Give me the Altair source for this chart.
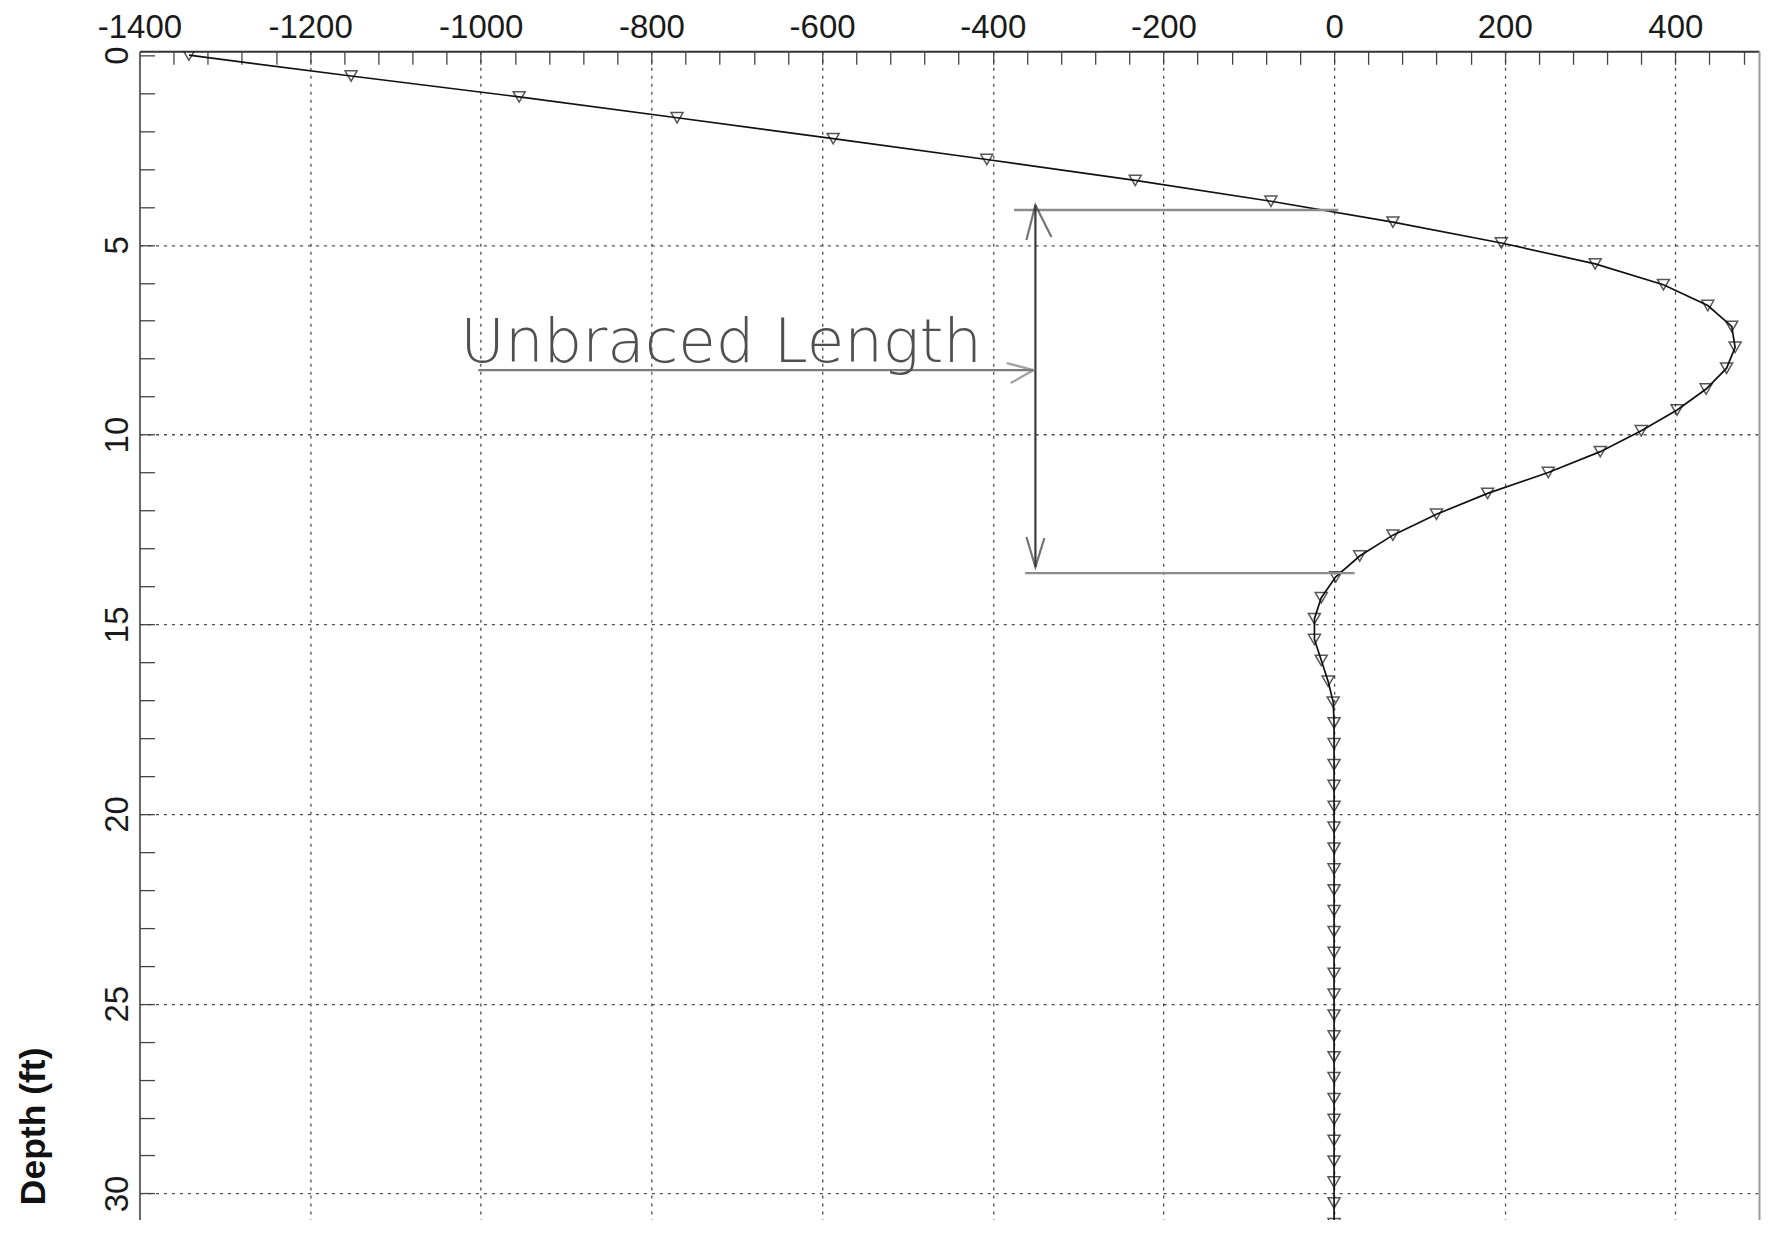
import altair as alt
import pandas as pd

# ---- curve data ----
depth_ft = [0.00, 0.55, 1.10, 1.65, 2.20, 2.75, 3.30, 3.85, 4.40, 4.95,
            5.50, 6.05, 6.60, 7.15, 7.70, 8.25, 8.80, 9.35, 9.90, 10.45,
            11.00, 11.55, 12.10, 12.65, 13.20, 13.75, 14.30, 14.85, 15.40, 15.95,
            16.50, 17.05, 17.60, 18.15, 18.70, 19.25, 19.80, 20.35, 20.90, 21.45,
            22.00, 22.55, 23.10, 23.65, 24.20, 24.75, 25.30, 25.85, 26.40, 26.95,
            27.50, 28.05, 28.60, 29.15, 29.70, 30.25, 30.80, 31.35]
values = [-1342, -1152, -955, -770, -587, -407, -233, -74, 69, 196,
          306, 386, 438, 466, 470, 460, 436, 402, 360, 312,
          251, 180, 120, 69, 30, 2, -15, -23, -23, -15,
          -7, -1, 0, 0, 0, 0, 0, 0, 0, 0,
          0, 0, 0, 0, 0, 0, 0, 0, 0, 0,
          0, 0, 0, 0, 0, 0, 0, 0]

# ---- axes ----
x_major = [-1400, -1200, -1000, -800, -600, -400, -200, 0, 200, 400]
x_minor = list(range(-1400, 481, 40))
y_major = [0, 5, 10, 15, 20, 25, 30]
y_minor = list(range(0, 31))
X_DOMAIN = [-1400, 498]
Y_DOMAIN = [-0.1, 30.7]
W, H = 1620, 1169

# ---- hand-drawn annotation ----
note_text = ["Unbraced Length"]
note_x = [-1024]
note_y = [8.09]

seg_x = [-375, -362, -1003]
seg_x2 = [5, 24, -352]
seg_y = [4.08, 13.65, 8.30]
seg_color = ["#8c8c8c", "#8c8c8c", "#7a7a7a"]

vert_x = [-350]
vert_y = [3.95]
vert_y2 = [13.49]

head_x = [-350, -350, -352]
head_y = [3.95, 13.49, 8.30]
head_shape = ["M-0.45,1.75L0,0L0.8,1.6",
              "M-0.45,-1.5L0,0L0.45,-1.45",
              "M-1.35,-0.35L0,0L-1.15,0.65"]
head_color = ["#3a3a3a", "#3a3a3a", "#7a7a7a"]

df = pd.DataFrame({"d": depth_ft, "v": values, "k": list(range(len(depth_ft)))})
df_seg = pd.DataFrame({"x": seg_x, "x2": seg_x2, "y": seg_y, "c": seg_color})
df_vert = pd.DataFrame({"x": vert_x, "y": vert_y, "y2": vert_y2})
df_txt = pd.DataFrame({"x": note_x, "y": note_y, "t": note_text})
df_head = pd.DataFrame({"x": head_x, "y": head_y, "s": head_shape, "c": head_color})

FONT = "Liberation Sans, Arial, Helvetica, sans-serif"
xs = alt.Scale(domain=X_DOMAIN, nice=False, zero=False)
ys = alt.Scale(domain=Y_DOMAIN, reverse=True, nice=False, zero=False)

line = alt.Chart(df).mark_line(color="#111111", strokeWidth=1.7, clip=True).encode(
    x=alt.X("v:Q", scale=xs, axis=alt.Axis(
        orient="top", values=x_major, title=None, labelFont=FONT, labelFontSize=33,
        labelColor="#1a1a1a", labelPadding=7, ticks=False, tickSize=0,
        domain=True, domainColor="#333333", domainWidth=2,
        grid=True, gridColor="#4d4d4d", gridDash=[3, 5], gridWidth=1.3,
        gridOpacity={"condition": {"test": "datum.value === -1400", "value": 0}, "value": 1},
        labelFlush=False, labelOverlap=False, labelExpr="'' + datum.value")),
    y=alt.Y("d:Q", scale=ys, axis=alt.Axis(
        orient="left", values=y_major, title="Depth (ft)", titleFont=FONT,
        titleFontSize=35.5, titleFontWeight="bold", titleColor="#111111",
        titleAngle=270, titleX=-94.5, titleY=1074.8, titleAlign="center",
        titleBaseline="alphabetic",
        labelFont=FONT, labelFontSize=33, labelColor="#1a1a1a",
        labelAngle=270, labelAlign="center", labelBaseline="bottom", labelPadding=5,
        ticks=False, tickSize=0, domain=True, domainColor="#666666", domainWidth=2,
        grid=True, gridColor="#4d4d4d", gridDash=[3, 5], gridWidth=1.3,
        gridOpacity={"condition": {"test": "datum.value === 0", "value": 0}, "value": 1},
        labelFlush=False, labelOverlap=False, labelExpr="'' + datum.value")),
    order="k:Q",
)

pts = alt.Chart(df).mark_point(shape="triangle-down", size=145, filled=False,
                               color="#111111", strokeWidth=1.5, clip=True).encode(
    x=alt.X("v:Q", scale=xs, axis=alt.Axis(
        orient="bottom", offset=-H, values=x_minor, ticks=True, tickSize=13,
        tickColor="#444444", tickWidth=1.3, labels=False, domain=False,
        grid=False, title=None)),
    y=alt.Y("d:Q", scale=ys, axis=alt.Axis(
        orient="right", offset=-W, values=y_minor, ticks=True, tickSize=15,
        tickColor="#444444", tickWidth=1.3, labels=False, domain=False,
        grid=False, title=None)),
)

hr = alt.Chart(df_seg).mark_rule(strokeWidth=2.4).encode(
    x=alt.X("x:Q", scale=xs, axis=None),
    x2="x2:Q",
    y=alt.Y("y:Q", scale=ys, axis=alt.Axis(
        orient="right", domain=True, domainColor="#9a9a9a", domainWidth=2,
        ticks=False, labels=False, grid=False, title=None)),
    color=alt.Color("c:N", scale=None),
)

vr = alt.Chart(df_vert).mark_rule(strokeWidth=2.2, color="#3a3a3a").encode(
    x=alt.X("x:Q", scale=xs, axis=None),
    y=alt.Y("y:Q", scale=ys, axis=None),
    y2="y2:Q",
)

txt = alt.Chart(df_txt).mark_text(align="left", baseline="alphabetic",
                                  font="DejaVu Sans", fontSize=61, fontWeight=300,
                                  color="#505050").encode(
    x=alt.X("x:Q", scale=xs, axis=None),
    y=alt.Y("y:Q", scale=ys, axis=None),
    text="t:N",
)

heads = alt.Chart(df_head).mark_point(filled=False, size=1600, strokeWidth=2.2).encode(
    x=alt.X("x:Q", scale=xs, axis=None),
    y=alt.Y("y:Q", scale=ys, axis=None),
    shape=alt.Shape("s:N", scale=None),
    color=alt.Color("c:N", scale=None),
)

chart = alt.layer(line, pts, hr, vr, txt, heads).resolve_axis(
    x="independent", y="independent"
).properties(
    width=W, height=H,
    autosize=alt.AutoSizeParams(type="none"),
    padding={"left": 131.5, "top": 43.2, "right": 6, "bottom": 0},
).configure_view(strokeWidth=0)

chart.save("out.html", embed_options={"renderer": "svg", "actions": False})
